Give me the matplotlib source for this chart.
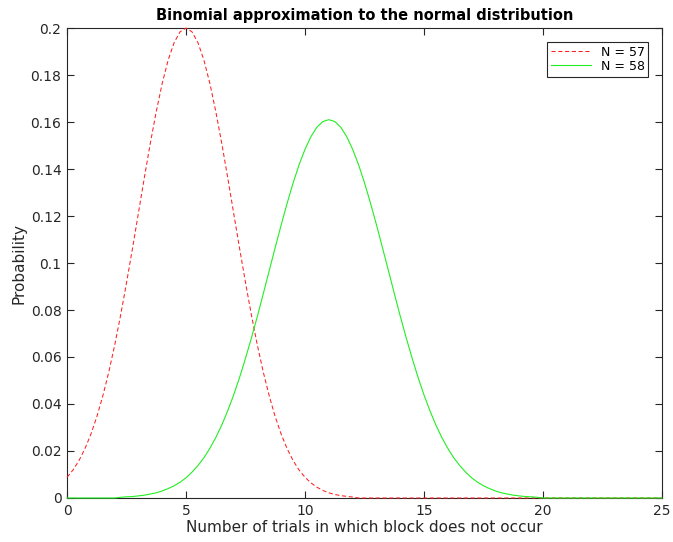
import numpy as np
import matplotlib
matplotlib.use('Agg')
import matplotlib.pyplot as plt

# x grid (0.25 steps)
x = [i * 0.25 for i in range(101)]

# N = 57 (red dashed)
p57 = [0.0088, 0.0119, 0.0159, 0.0209, 0.0271, 0.0345, 0.0433, 0.0534, 0.0649, 0.0777,
       0.0916, 0.1062, 0.1213, 0.1364, 0.1510, 0.1645, 0.1765, 0.1864, 0.1938, 0.1984,
       0.2000, 0.1984, 0.1938, 0.1864, 0.1765, 0.1645, 0.1510, 0.1364, 0.1213, 0.1062,
       0.0916, 0.0777, 0.0649, 0.0534, 0.0433, 0.0345, 0.0271, 0.0209, 0.0159, 0.0119,
       0.0088, 0.0064, 0.0046, 0.0032, 0.0022, 0.0015, 0.0010, 0.0007, 0.0004] + [0.0] * 52

# N = 58 (green solid)
p58 = [0.0] * 9 + \
      [0.0003, 0.0005, 0.0006, 0.0009, 0.0012, 0.0017, 0.0022, 0.0030, 0.0040, 0.0052,
       0.0067, 0.0086, 0.0110, 0.0138, 0.0171, 0.0211, 0.0257, 0.0310, 0.0371, 0.0438,
       0.0513, 0.0595, 0.0682, 0.0774, 0.0871, 0.0969, 0.1067, 0.1163, 0.1255, 0.1341,
       0.1418, 0.1484, 0.1538, 0.1578, 0.1602, 0.1610, 0.1602, 0.1578, 0.1538, 0.1484,
       0.1418, 0.1341, 0.1255, 0.1163, 0.1067, 0.0969, 0.0871, 0.0774, 0.0682, 0.0595,
       0.0513, 0.0438, 0.0371, 0.0310, 0.0257, 0.0211, 0.0171, 0.0138, 0.0110, 0.0086,
       0.0067, 0.0052, 0.0040, 0.0030, 0.0022, 0.0017, 0.0012, 0.0009, 0.0006, 0.0005,
       0.0003] + [0.0] * 21

labels = ['N = 57', 'N = 58']

fig = plt.figure(figsize=(6.73, 5.42), dpi=100)
ax = fig.add_axes([0.0996, 0.0812, 0.8841, 0.8671])

ax.plot(x, p57, color='#ff2020', linestyle='--', linewidth=0.75, dashes=(4, 2.5),
        label=labels[0], zorder=3, clip_on=False)
ax.plot(x, p58, color='#22ee22', linestyle='-', linewidth=0.8,
        label=labels[1], zorder=3, clip_on=False)

ax.set_xlim(0, 25)
ax.set_ylim(0, 0.2)
ax.set_xticks([0, 5, 10, 15, 20, 25])
ax.set_yticks([0, 0.02, 0.04, 0.06, 0.08, 0.1, 0.12, 0.14, 0.16, 0.18, 0.2])
ax.set_yticklabels(['0', '0.02', '0.04', '0.06', '0.08', '0.1', '0.12', '0.14',
                    '0.16', '0.18', '0.2'])

ax.tick_params(direction='in', top=True, right=True, length=5, width=0.8,
               labelsize=10, colors='#262626', pad=4)
for s in ax.spines.values():
    s.set_color('#262626')
    s.set_linewidth(0.8)

ax.set_xlabel('Number of trials in which block does not occur', fontsize=11,
              color='#262626', labelpad=2)
ax.set_ylabel('Probability', fontsize=11, color='#262626', labelpad=3)
ax.set_title('Binomial approximation to the normal distribution', fontsize=10.5,
             fontweight='bold', pad=6)

leg = ax.legend(loc='upper right', fontsize=9, fancybox=False, framealpha=1,
                edgecolor='#262626', borderaxespad=1.1, handlelength=3.2,
                borderpad=0.3, labelspacing=0.1)
leg.get_frame().set_linewidth(0.8)

fig.savefig('out.png', dpi=100)
